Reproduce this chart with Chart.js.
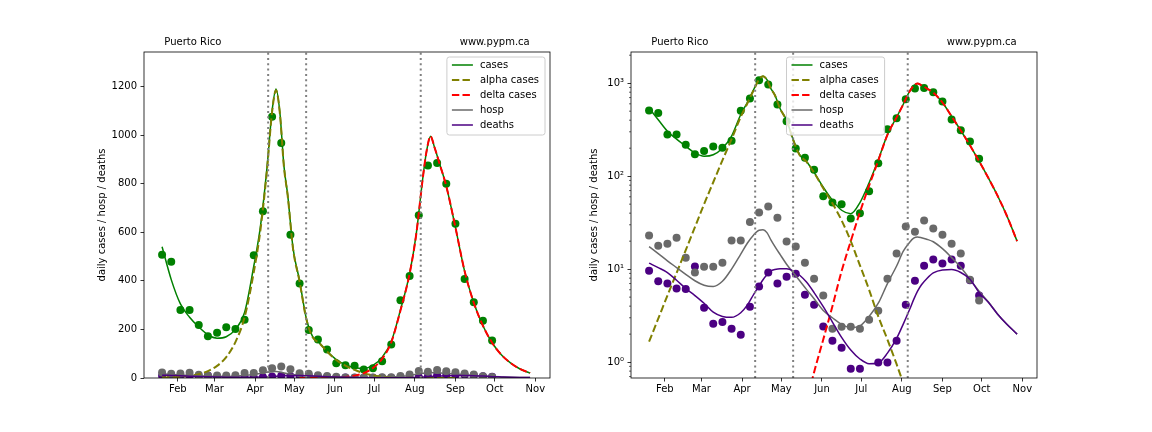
<!DOCTYPE html>
<html>
<head>
<meta charset="utf-8">
<script src="https://cdn.jsdelivr.net/npm/chart.js@4.4.1/dist/chart.umd.min.js"></script>
<style>
    html, body { margin: 0; padding: 0; background: #fff; }
    #wrap { position: relative; width: 1152px; height: 432px; }
    canvas { position: absolute; top: 0; }
    #linChart { left: 0; }
    #logChart { left: 576px; }
</style>
</head>
<body>
<div id="wrap">
    <canvas id="linChart" width="576" height="432"></canvas>
    <canvas id="logChart" width="576" height="432"></canvas>
</div>
<script>
// =====================
// Data (x = day of 2021, Jan 1 = 0)
// =====================
const regionName = 'Puerto Rico';
const siteName = 'www.pypm.ca';
const yTitle = 'daily cases / hosp / deaths';

const monthTicks = [31, 59, 90, 120, 151, 181, 212, 243, 273, 304];
const monthLabels = ['Feb', 'Mar', 'Apr', 'May', 'Jun', 'Jul', 'Aug', 'Sep', 'Oct', 'Nov'];
const linTicks = [0, 200, 400, 600, 800, 1000, 1200];
const logTicks = [1, 10, 100, 1000];
const logLabels = ['10⁰', '10¹', '10²', '10³'];
const eventDays = [100, 129, 216.5];

// weekly observations
const obsDays = [19, 26, 33, 40, 47, 54, 61, 68, 75, 82, 89, 96, 103, 110, 117, 124, 131, 138, 145,
    152, 159, 166, 173, 180, 187, 194, 201, 208, 215, 222, 229, 236, 243, 250, 257, 264, 271];
const obsCases = [507, 479, 280, 280, 218, 172, 186, 209, 202, 240, 505, 686, 1075, 967, 590, 389, 198, 158, 117,
    61, 52, 50, 35, 40, 69, 138, 320, 420, 670, 875, 885, 800, 635, 408, 312, 236, 154];
const obsHosp = [23, 17.9, 18.8, 21.8, 13.3, 9.2, 10.6, 10.6, 11.7, 20.3, 20.3, 32.1, 40.6, 47.1, 35.8, 19.8, 17.5, 11.7, 7.9,
    5.2, 2.29, 2.4, 2.4, 2.29, 2.86, 3.57, 7.9, 14.7, 28.7, 25.3, 33.3, 27.3, 23.5, 18.8, 14.7, 7.7, 4.6];
const obsDeaths = [9.6, 7.4, 7.0, 6.2, 6.1, 10.7, 3.85, 2.59, 2.7, 2.29, 1.97, 3.95, 6.5, 9.2, 7.0, 8.3, 8.9, 5.3, 4.15,
    2.42, 1.7, 1.43, 0.85, 0.85, 0.57, 0.99, 0.99, 1.7, 4.15, 7.5, 10.9, 12.7, 11.5, 12.7, 10.9, 7.6, 5.2];

// model curves
const modelDays = [19, 26, 33, 40, 47, 54, 61, 68, 75, 82, 89, 94, 99, 103, 106, 109, 112, 115, 119, 124,
    129, 134, 139, 145, 152, 159, 166, 173, 180, 187, 194, 201, 208, 213, 218, 221, 224, 227, 231, 236,
    243, 250, 257, 264, 271, 278, 285, 292, 300];
const modelCases = [540, 405, 305, 250, 210, 178, 164, 170, 200, 270, 460, 620, 860, 1100, 1190, 1090, 875, 750, 535, 400,
    248, 170, 145, 110, 76, 55, 43, 39.5, 52, 85, 150, 280, 430, 590, 820, 935, 995, 950, 880, 790,
    620, 440, 310, 215, 145, 96, 62, 38, 20];
const modelAlpha = [1.66, 2.93, 5.2, 9.1, 16, 28.3, 50, 86, 148, 250, 435, 605, 850, 1095, 1185, 1087, 872, 747, 532, 397,
    246, 168, 144, 109, 74, 51, 33.5, 20, 11, 6, 3.1, 1.75, 0.95, 0.6, 0.38, 0.29, 0.22, 0.17, 0.12, 0.08,
    0.045, null, null, null, null, null, null, null, null];
const modelDelta = [null, null, null, null, null, null, null, null, null, null, null, null, null, null, null, null, null, null, null, 0.06,
    0.1, 0.2, 0.36, 0.78, 1.75, 4.0, 9.5, 20, 41, 79, 147, 278, 429, 589, 820, 935, 995, 950, 880, 790,
    620, 440, 310, 215, 145, 96, 62, 38, 20];
const modelHosp = [17.5, 14.7, 12.3, 10.4, 8.8, 7.5, 6.7, 6.5, 7.4, 10, 14.5, 19, 23.5, 26.2, 26.5, 24.7, 20.7, 17.6, 14.4, 11.3,
    9.2, 7.5, 6.1, 4.8, 3.6, 3.0, 2.55, 2.35, 2.45, 3.1, 4.3, 7.0, 10.8, 15.5, 19.5, 21.5, 22.2, 21.8, 21, 19.7,
    16.6, 13.3, 10.5, 7.8, 5.8, 4.45, 3.3, 2.57, 2.0];
const modelDeaths = [11.6, 10.4, 9.2, 7.6, 6.2, 5.2, 4.3, 3.45, 3.1, 3.03, 3.4, 4.1, 5.4, 6.6, 7.7, 8.7, 9.6, 9.9, 10.1, 10.1,
    9.6, 8.6, 7.3, 5.6, 3.95, 2.7, 1.85, 1.35, 1.08, 0.96, 0.98, 1.25, 1.8, 2.55, 3.7, 4.7, 5.8, 6.8, 7.9, 9.1,
    9.8, 9.9, 9.2, 7.8, 5.6, 4.4, 3.3, 2.57, 2.0];

// =====================
// Styles
// =====================
const FONT = "'DejaVu Sans', sans-serif";
Chart.defaults.font.family = FONT;
Chart.defaults.font.size = 10;
Chart.defaults.color = '#000';

const colors = {
    cases: '#008000',
    alpha: '#808000',
    delta: '#ff0000',
    hosp: '#696969',
    deaths: '#4b0082'
};
const DASH = [7.4, 3.2];

// legend handles look a little lighter than the plotted curves
const legendItems = [
    { label: 'cases', color: 'rgba(0, 128, 0, 0.75)', dash: [] },
    { label: 'alpha cases', color: colors.alpha, dash: DASH },
    { label: 'delta cases', color: colors.delta, dash: DASH },
    { label: 'hosp', color: 'rgba(105, 105, 105, 0.75)', dash: [] },
    { label: 'deaths', color: 'rgba(75, 0, 130, 0.75)', dash: [] }
];

// minor ticks for the log axis
const logMinor = [];
[0.1, 1, 10, 100, 1000].forEach(d => { for (let m = 2; m <= 9; m++) logMinor.push(d * m); });

function toPoints(days, vals) {
    const pts = [];
    days.forEach((d, i) => { if (vals[i] !== null) pts.push({ x: d, y: vals[i] }); });
    return pts;
}

function lineSet(label, vals, color, dash, width, order) {
    return {
        label: label, data: toPoints(modelDays, vals),
        borderColor: color, borderWidth: width, borderDash: dash,
        pointRadius: 0, fill: false, cubicInterpolationMode: 'monotone',
        order: order, clip: 0
    };
}

function pointSet(label, vals, color, order) {
    return {
        label: label, data: toPoints(obsDays, vals), showLine: false,
        pointRadius: 4, pointBackgroundColor: color, pointBorderWidth: 0,
        borderColor: color, backgroundColor: color, order: order, clip: 0
    };
}

function buildDatasets() {
    return [
        pointSet('cases obs', obsCases, colors.cases, 8),
        pointSet('deaths obs', obsDeaths, colors.deaths, 7),
        pointSet('hosp obs', obsHosp, colors.hosp, 6),
        lineSet('cases', modelCases, colors.cases, [], 1.5, 5),
        lineSet('alpha cases', modelAlpha, colors.alpha, DASH, 2, 4),
        lineSet('delta cases', modelDelta, colors.delta, DASH, 2, 3),
        lineSet('hosp', modelHosp, colors.hosp, [], 1.5, 2),
        lineSet('deaths', modelDeaths, colors.deaths, [], 1.5, 1)
    ];
}

// =====================
// Decorations: event lines, spines, captions, legend
// =====================
function drawLegend(ctx, a, opts) {
    ctx.font = '10px ' + FONT;
    const textW = Math.max(...legendItems.map(it => ctx.measureText(it.label).width));
    const w = 5 + 21 + 7 + textW + 6;
    const h = 78;
    const left = opts.legendLeft !== undefined ? a.left + opts.legendLeft : a.right - 5 - w;
    const top = a.top + 5;

    ctx.setLineDash([]);
    ctx.beginPath();
    ctx.roundRect(left, top, w, h, 2.5);
    ctx.fillStyle = 'rgba(255, 255, 255, 0.8)';
    ctx.fill();
    ctx.strokeStyle = '#cccccc';
    ctx.lineWidth = 1;
    ctx.stroke();

    legendItems.forEach((it, i) => {
        const cy = top + 8 + i * 15;
        ctx.beginPath();
        ctx.strokeStyle = it.color;
        ctx.lineWidth = 2;
        ctx.setLineDash(it.dash);
        ctx.moveTo(left + 5, cy);
        ctx.lineTo(left + 26, cy);
        ctx.stroke();
        ctx.setLineDash([]);
        ctx.fillStyle = '#000';
        ctx.textAlign = 'left';
        ctx.textBaseline = 'middle';
        ctx.fillText(it.label, left + 33, cy);
    });
}

const decorPlugin = {
    id: 'decor',
    afterDatasetsDraw(chart) {
        const { ctx, chartArea: a, scales: { x } } = chart;
        ctx.save();
        ctx.beginPath();
        ctx.rect(a.left, a.top, a.width, a.height);
        ctx.clip();
        ctx.strokeStyle = 'gray';
        ctx.lineWidth = 2;
        ctx.setLineDash([2, 3.3]);
        eventDays.forEach(d => {
            const px = x.getPixelForValue(d);
            ctx.beginPath();
            ctx.moveTo(px, a.bottom);
            ctx.lineTo(px, a.top);
            ctx.stroke();
        });
        ctx.restore();
    },
    afterDraw(chart, args, opts) {
        const { ctx, chartArea: a, scales: { y } } = chart;
        ctx.save();
        ctx.strokeStyle = '#000';
        if (opts.log) {
            ctx.lineWidth = 0.6;
            logMinor.forEach(v => {
                if (v < y.min || v > y.max) return;
                const py = y.getPixelForValue(v);
                ctx.beginPath();
                ctx.moveTo(a.left - 2, py);
                ctx.lineTo(a.left, py);
                ctx.stroke();
            });
        }
        ctx.lineWidth = 0.8;
        ctx.strokeRect(a.left, a.top, a.width, a.height);

        ctx.fillStyle = '#000';
        ctx.font = '10px ' + FONT;
        ctx.textBaseline = 'alphabetic';
        const ty = a.top - 0.02 * a.height;
        ctx.textAlign = 'left';
        ctx.fillText(regionName, a.left + 0.05 * a.width, ty);
        ctx.textAlign = 'right';
        ctx.fillText(siteName, a.left + 0.95 * a.width, ty);

        drawLegend(ctx, a, opts);
        ctx.restore();
    }
};

// =====================
// Chart setup
// =====================
const tickGrid = { drawOnChartArea: false, drawTicks: true, tickLength: 3.5, color: '#000', lineWidth: 0.8 };

function makeChart(canvasId, isLog, padding, yWidth, legendLeft) {
    const yScale = isLog ? {
        type: 'logarithmic', min: 0.675, max: 2165,
        afterBuildTicks: s => { s.ticks = logTicks.map(v => ({ value: v })); },
        ticks: { padding: 3.5, callback: (v, i) => logLabels[i] }
    } : {
        type: 'linear', min: 0, max: 1342,
        afterBuildTicks: s => { s.ticks = linTicks.map(v => ({ value: v })); },
        ticks: { padding: 3.5, callback: (v, i) => String(linTicks[i]) }
    };
    Object.assign(yScale, {
        afterFit: s => { s.width = yWidth; },
        grid: tickGrid,
        border: { display: false },
        title: { display: true, text: yTitle, padding: { top: 0, bottom: 0 } }
    });

    return new Chart(document.getElementById(canvasId), {
        type: 'line',
        data: { datasets: buildDatasets() },
        options: {
            responsive: false,
            animation: false,
            events: [],
            layout: { padding: padding },
            plugins: {
                legend: { display: false },
                tooltip: { enabled: false },
                decor: { log: isLog, legendLeft: legendLeft }
            },
            scales: {
                x: {
                    type: 'linear', min: 5.2, max: 315.2,
                    afterBuildTicks: s => { s.ticks = monthTicks.map(v => ({ value: v })); },
                    afterFit: s => { s.height = 30; },
                    ticks: { autoSkip: false, maxRotation: 0, padding: 2, callback: (v, i) => monthLabels[i] },
                    grid: tickGrid,
                    border: { display: false }
                },
                y: yScale
            }
        },
        plugins: [decorPlugin]
    });
}

makeChart('linChart', false, { left: 96, right: 26, top: 52, bottom: 24 }, 48);
makeChart('logChart', true, { left: 12, right: 115, top: 52, bottom: 24 }, 43, 155.5);
</script>
</body>
</html>
